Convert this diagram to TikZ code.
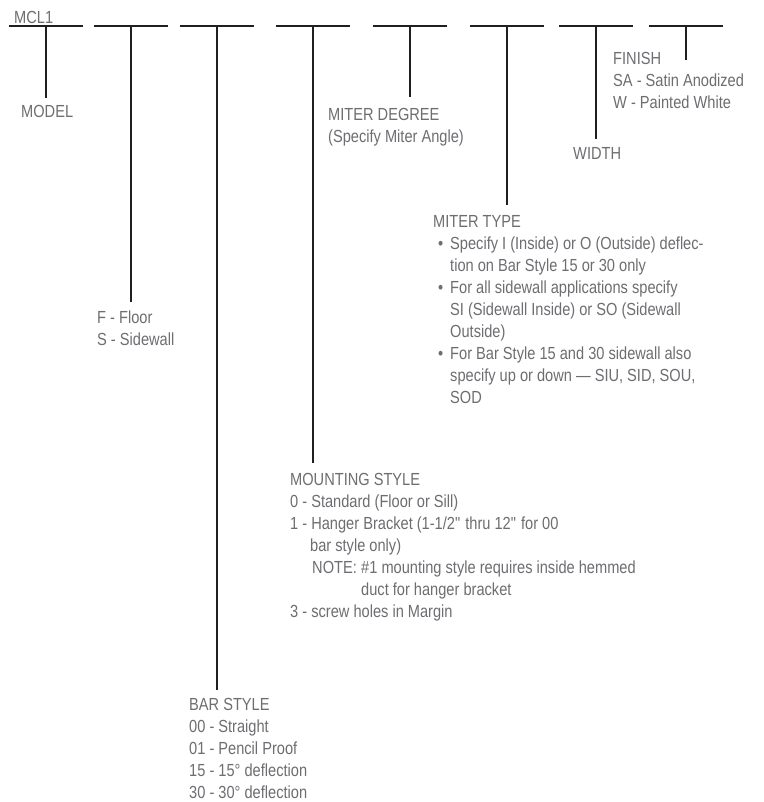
\documentclass[tikz,border=0pt]{standalone}
\usepackage{fontspec}
\setmainfont{Liberation Sans}[FakeStretch=0.835]
\definecolor{linec}{HTML}{231F20}
\definecolor{textc}{HTML}{6D6E71}
\newcommand\lblfont{\fontsize{17.5}{22}\selectfont}
\tikzset{
  blank/.style={draw=linec, line width=2.6pt},
  stem/.style={draw=linec, line width=2.6pt},
  lbl/.style={anchor=base west, inner sep=0pt, text=textc, font=\lblfont, align=left},
}
\begin{document}
\begin{tikzpicture}[x=1pt,y=-1pt]
\useasboundingbox[fill=white] (0,0) rectangle (763,802);
% blanks: start x, vertical end
\foreach \i/\sx/\ey in {1/9/98, 2/94/302, 3/180/690, 4/276/463, 5/373/97, 6/470/205, 7/559/139, 8/649/60}{
  \coordinate (s\i) at (\sx,26);
  \coordinate (e\i) at (\sx+74,26);
  \coordinate (m\i) at (\sx+37,26);
  \coordinate (v\i) at (\sx+37,\ey);
  \draw[blank] (s\i) -- (e\i);
  \draw[stem] (m\i) -- (v\i);
}
% multi-line labels are anchored at the baseline of their last line
\node[lbl] (mcl) at (14,24) {MCL1};
\node[lbl] (model) at (21,118) {MODEL};
\node[lbl] (fs) at (97,345.5) {F - Floor\\S - Sidewall};
\node[lbl] (bar) at (189,798.5) {BAR STYLE\\00 - Straight\\01 - Pencil Proof\\15 - 15° deflection\\30 - 30° deflection};
\node[lbl] (mount) at (290,617.5) {MOUNTING STYLE\\
0 - Standard (Floor or Sill)\\
1 - Hanger Bracket (1-1/2\textquotedbl{} thru 12\textquotedbl{} for 00\\
\hspace*{20pt}bar style only)\\
\hspace*{22pt}\makebox[49pt][l]{NOTE:}\#1 mounting style requires inside hemmed\\
\hspace*{71pt}duct for hanger bracket\\
3 - screw holes in Margin};
\node[lbl] (deg) at (328,142.5) {MITER DEGREE\\(Specify Miter Angle)};
\node[lbl] (type) at (433,403.5) {MITER TYPE\\
\hspace*{5pt}\makebox[12pt][l]{•}Specify I (Inside) or O (Outside) deflec-\\
\hspace*{17pt}tion on Bar Style 15 or 30 only\\
\hspace*{5pt}\makebox[12pt][l]{•}For all sidewall applications specify\\
\hspace*{17pt}SI (Sidewall Inside) or SO (Sidewall\\
\hspace*{17pt}Outside)\\
\hspace*{5pt}\makebox[12pt][l]{•}For Bar Style 15 and 30 sidewall also\\
\hspace*{17pt}specify up or down — SIU, SID, SOU,\\
\hspace*{17pt}SOD};
\node[lbl] (width) at (573,159.5) {WIDTH};
\node[lbl] (finish) at (613,108.5) {FINISH\\SA - Satin Anodized\\W - Painted White};
\end{tikzpicture}
\end{document}
